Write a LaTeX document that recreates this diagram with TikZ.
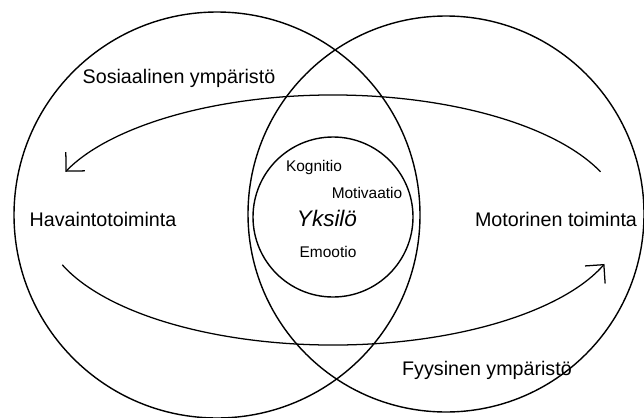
\documentclass[tikz,border=0pt]{standalone}
\usepackage{fontspec}
\setmainfont{Liberation Sans}
\usetikzlibrary{arrows.meta}

\begin{document}
\begin{tikzpicture}[x=0.025cm, y=0.025cm,
    ring/.style={draw=black, line width=1pt},
    loopline/.style={draw=black, line width=0.9pt, -{Straight Barb[length=9.5pt, width=19pt]}},
    biglabel/.style={font=\fontsize{14}{16}\selectfont},
    smalllabel/.style={font=\fontsize{11}{13}\selectfont}]
    \useasboundingbox (0,0) rectangle (644,417);
    %Centres
    \coordinate (social) at (217,202);
    \coordinate (physical) at (446,203);
    \coordinate (self) at (333,200);
    \coordinate (cyclecen) at (333,197);

    % Circles
    \draw[ring] (social) circle[radius=203];
    \draw[ring] (physical) circle[radius=198];
    \draw[ring] (self) circle[radius=80];

    % Cycle of action
    \draw[loopline] ([shift={(22.7:290 and 125)}]cyclecen) arc[start angle=22.7, end angle=157.3, x radius=290, y radius=125];
    \draw[loopline] ([shift={(201:290 and 125)}]cyclecen) arc[start angle=201, end angle=339.4, x radius=290, y radius=125];

    %Labels
    \node[biglabel] (sosiaal) at (179,339) {Sosiaalinen ympäristö};
    \node[biglabel] (havainto) at (103,198) {Havaintotoiminta};
    \node[biglabel] (motor) at (556,198) {Motorinen toiminta};
    \node[biglabel] (fyys) at (487,47) {Fyysinen ympäristö};
    \node[font=\fontsize{16}{18}\selectfont\itshape] (yksilo) at (327,199) {Yksilö};
    \node[smalllabel] (kogn) at (314,250) {Kognitio};
    \node[smalllabel] (motiv) at (367,224) {Motivaatio};
    \node[smalllabel] (emo) at (328,165) {Emootio};
\end{tikzpicture}
\end{document}
